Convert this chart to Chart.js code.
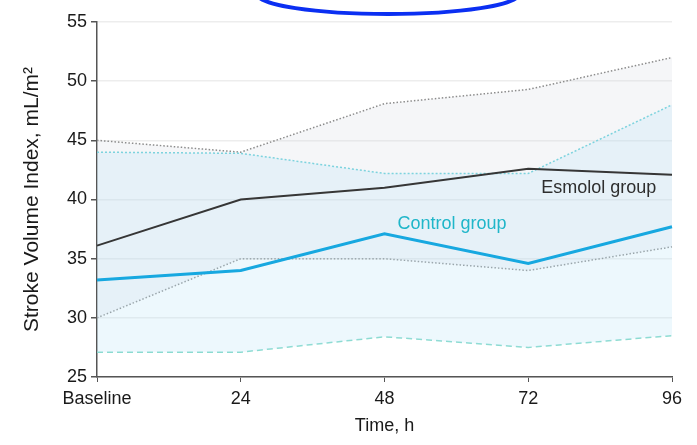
<!DOCTYPE html>
<html>
<head>
<meta charset="utf-8">
<script src="https://cdn.jsdelivr.net/npm/chart.js@4.4.1/dist/chart.umd.min.js"></script>
<style>
  html, body { margin: 0; padding: 0; background: #ffffff; }
  #wrap { width: 697px; height: 445px; position: relative; }
</style>
</head>
<body>
<div id="wrap"><canvas id="chart" width="697" height="445"></canvas></div>
<script>
// Time points (hours)
const timeLabels = ['Baseline', '24', '48', '72', '96'];

// Stroke volume index, mL/m^2
const esmololMean  = [36.1, 40.0, 41.0, 42.6, 42.1];
const esmololUpper = [45.0, 44.0, 48.1, 49.3, 52.0];
const esmololLower = [30.0, 35.0, 35.0, 34.0, 36.0];

const controlMean  = [33.2, 34.0, 37.1, 34.6, 37.7];
const controlUpper = [44.0, 43.9, 42.2, 42.2, 48.0];
const controlLower = [27.1, 27.1, 28.4, 27.5, 28.5];

const yTicks = [25, 30, 35, 40, 45, 50, 55];

const FONT = "'Liberation Sans', Arial, sans-serif";
const TEXT = '#1a1a1a';

// Group name labels placed in data space
const groupLabels = [
  { text: 'Esmolol group', x: 3.09, y: 40.95, color: '#2e2e2e' },
  { text: 'Control group', x: 2.09, y: 37.9, color: '#1fb6c9' }
];

const labelPlugin = {
  id: 'groupLabels',
  afterDatasetsDraw(chart) {
    const { ctx, scales } = chart;
    ctx.save();
    ctx.font = "18px " + FONT;
    ctx.textBaseline = 'middle';
    ctx.textAlign = 'left';
    groupLabels.forEach(l => {
      ctx.fillStyle = l.color;
      ctx.fillText(l.text, scales.x.getPixelForValue(l.x), scales.y.getPixelForValue(l.y));
    });
    ctx.restore();
  }
};

// Blue highlight ring partly cut off at the top edge
const ringPlugin = {
  id: 'ring',
  afterDraw(chart) {
    const { ctx } = chart;
    ctx.save();
    ctx.strokeStyle = '#0b2ff2';
    ctx.lineWidth = 4;
    ctx.beginPath();
    ctx.ellipse(388, -6, 131, 20, 0, 0, Math.PI * 2);
    ctx.stroke();
    ctx.restore();
  }
};

new Chart(document.getElementById('chart'), {
  type: 'line',
  data: {
    labels: timeLabels,
    datasets: [
      {
        label: 'Control group',
        data: controlMean,
        borderColor: '#17a8e0',
        borderWidth: 3,
        pointRadius: 0,
        fill: false
      },
      {
        label: 'Esmolol group',
        data: esmololMean,
        borderColor: '#363636',
        borderWidth: 2,
        pointRadius: 0,
        fill: false
      },
      {
        label: 'Control upper',
        data: controlUpper,
        borderColor: '#7dd3de',
        borderWidth: 1.5,
        borderDash: [2, 2],
        pointRadius: 0,
        fill: 3,
        backgroundColor: 'rgba(180, 225, 246, 0.24)'
      },
      {
        label: 'Control lower',
        data: controlLower,
        borderColor: '#8adbcf',
        borderWidth: 1.5,
        borderDash: [6, 4],
        pointRadius: 0,
        fill: false
      },
      {
        label: 'Esmolol upper',
        data: esmololUpper,
        borderColor: '#8c8c8c',
        borderWidth: 1.5,
        borderDash: [1.5, 2],
        pointRadius: 0,
        fill: 5,
        backgroundColor: 'rgba(210, 214, 222, 0.22)'
      },
      {
        label: 'Esmolol lower',
        data: esmololLower,
        borderColor: '#8c8c8c',
        borderWidth: 1.5,
        borderDash: [1.5, 2],
        pointRadius: 0,
        fill: false
      }
    ]
  },
  options: {
    responsive: false,
    animation: false,
    layout: { padding: { left: 0, right: 25, top: 22, bottom: 0 } },
    plugins: {
      legend: { display: false },
      tooltip: { enabled: false }
    },
    elements: { line: { tension: 0 } },
    scales: {
      x: {
        offset: false,
        grid: { display: true, drawOnChartArea: false, tickLength: 5, tickColor: '#555555' },
        border: { color: '#555555', width: 1.5 },
        ticks: { color: TEXT, font: { family: FONT, size: 18 }, padding: 6, maxRotation: 0 },
        title: { display: true, text: 'Time, h', color: TEXT, font: { family: FONT, size: 18 }, padding: { top: 4, bottom: 8 } },
        afterFit(scale) { scale.height = 68; }
      },
      y: {
        min: 25,
        max: 55,
        afterBuildTicks(scale) { scale.ticks = yTicks.map(v => ({ value: v })); },
        grid: { color: '#ededed', lineWidth: 1.5, tickLength: 6, tickColor: '#555555' },
        border: { color: '#555555', width: 1.5 },
        ticks: { color: TEXT, font: { family: FONT, size: 18 }, padding: 4 },
        title: { display: true, text: 'Stroke Volume Index, mL/m²', color: TEXT, font: { family: FONT, size: 21 }, padding: { top: 20, bottom: 0 } },
        afterFit(scale) { scale.width = 97; }
      }
    }
  },
  plugins: [labelPlugin, ringPlugin]
});
</script>
</body>
</html>
